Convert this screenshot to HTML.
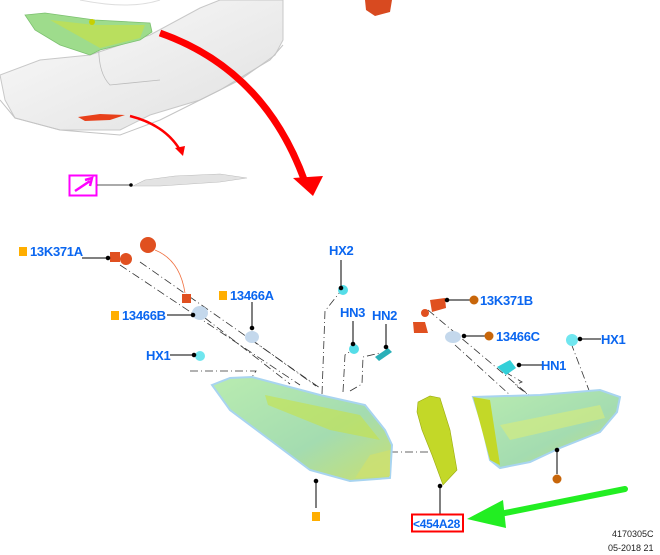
<!DOCTYPE html>
<html><head><meta charset="utf-8"><style>
html,body{margin:0;padding:0;background:#fff;width:660px;height:555px;overflow:hidden}
svg text{font-family:"Liberation Sans",sans-serif;font-weight:bold;fill:#0a66f0;font-size:13px;letter-spacing:-0.3px}
</style></head><body>
<svg width="660" height="555" viewBox="0 0 660 555" xmlns="http://www.w3.org/2000/svg">
<defs>
<linearGradient id="car" x1="0" y1="0" x2="1" y2="1"><stop offset="0" stop-color="#fbfbfb"/><stop offset="1" stop-color="#e0e0e0"/></linearGradient>
<linearGradient id="lamp" x1="0" y1="0" x2="1" y2="1"><stop offset="0" stop-color="#b9ecb0"/><stop offset="0.6" stop-color="#a4dcb0"/><stop offset="1" stop-color="#c8e070"/></linearGradient>
</defs>
<!-- car rear -->
<path d="M0,75 L40,60 L90,55 L150,35 L200,8 L220,0 L283,0 L283,40 L275,55 L240,80 L200,100 L150,115 L120,130 L60,130 L15,118 L5,100 Z" fill="url(#car)" stroke="#c8c8c8"/>
<path d="M0,100 L15,118 L60,130 L120,135 L160,120 L220,90 L270,60 L283,45" fill="none" stroke="#c4c4c4"/>
<path d="M80,0 Q130,10 160,0" fill="none" stroke="#ddd"/>
<path d="M100,30 Q95,70 110,85 L160,80" fill="none" stroke="#bbb" stroke-width="0.8"/>
<path d="M78,117 L100,114 L125,115 L110,120 L85,121 Z" fill="#e8401a"/>
<!-- green lamp top -->
<path d="M25,15 L45,13 L95,20 L150,23 L152,32 L140,40 L100,50 L90,55 L60,45 L35,30 Z" fill="#9edc8c" stroke="#7cc070" stroke-width="0.8"/>
<path d="M50,20 L95,25 L145,25 L140,38 L100,48 Z" fill="#c4e04a" opacity="0.7"/>
<circle cx="92" cy="22" r="3" fill="#c8d000"/>
<path d="M365,0 L392,0 L390,12 L375,16 L366,10 Z" fill="#d84a20"/>
<!-- big red arrow -->
<path d="M160,33 Q265,70 305,182" fill="none" stroke="#ff0000" stroke-width="7"/>
<polygon points="293,178 323,176 313,196" fill="#ff0000"/>
<!-- small red arrow -->
<path d="M130,116 Q165,125 180,150" fill="none" stroke="#ff0000" stroke-width="2.5"/>
<polygon points="175,148 185,146 183,156" fill="#ff0000"/>
<!-- magenta box and part -->
<rect x="69.5" y="175.5" width="27" height="20" fill="#fff" stroke="#ff00ff" stroke-width="2"/>
<path d="M75,191 L90,181 M85,180 L92,178 L90,186" fill="none" stroke="#ff00ff" stroke-width="2.5"/>
<line x1="97" y1="185" x2="131" y2="185" stroke="#555"/>
<circle cx="131" cy="185" r="1.8" fill="#000"/>
<path d="M133,186 L145,180 L175,176 L220,174 L247,178 L220,182 L160,186 Z" fill="#e3e3e3" stroke="#bbb" stroke-width="0.6"/>

<!-- dash-dot leaders -->
<g fill="none" stroke="#333" stroke-width="0.8" stroke-dasharray="8,3,1,3">
<path d="M140,262 L320,388"/>
<path d="M120,265 L300,385"/>
<path d="M205,318 L290,384"/>
<path d="M252,340 L316,386"/>
<path d="M190,371 L256,371 L250,380"/>
<path d="M322,394 L325,311 L340,292"/>
<path d="M343,392 L345,355 L355,348"/>
<path d="M350,391 L362,384 L363,357 L380,353"/>
<path d="M390,452 L430,452"/>
<path d="M428,310 L530,396"/>
<path d="M455,345 L510,395"/>
<path d="M505,372 L522,382 L515,385 L530,396"/>
<path d="M571,343 L590,393"/>
</g>
<!-- left lamp -->
<path d="M212,385 L230,378 L252,377 L320,395 L365,405 L385,430 L392,445 L390,478 L350,481 L310,470 L270,440 L230,410 Z" fill="url(#lamp)" stroke="#a8d4f0" stroke-width="2"/>
<path d="M265,395 L360,415 L380,440 L330,430 L268,405 Z" fill="#c6e24a" opacity="0.6"/>
<path d="M355,478 L370,455 L390,450 L390,476 Z" fill="#cde070" opacity="0.8"/>
<!-- bracket -->
<path d="M418,402 L430,396 L440,398 L450,430 L457,470 L443,485 L432,455 L422,430 L417,412 Z" fill="#c3d828" stroke="#9aaa10" stroke-width="0.6"/>
<!-- right lamp -->
<path d="M473,397 L540,395 L600,390 L620,397 L617,412 L600,432 L560,448 L530,462 L500,468 L490,460 L482,425 Z" fill="url(#lamp)" stroke="#a8d4f0" stroke-width="2"/>
<path d="M473,397 L490,400 L500,465 L490,460 Z" fill="#c3d828"/>
<path d="M500,425 L600,405 L605,418 L510,440 Z" fill="#d8ec7a" opacity="0.6"/>

<!-- small parts -->
<g>
<circle cx="148" cy="245" r="8" fill="#e05020"/>
<circle cx="126" cy="259" r="6" fill="#e05020"/>
<rect x="110" y="252" width="10" height="10" fill="#e05020"/>
<rect x="182" y="294" width="9" height="9" fill="#e05020"/>
<path d="M155,250 Q180,260 185,293" fill="none" stroke="#f07040" stroke-width="0.8"/>
<ellipse cx="200" cy="313" rx="8" ry="7" fill="#c4d8ec"/>
<ellipse cx="252" cy="337" rx="7" ry="6" fill="#c4d8ec"/>
<circle cx="200" cy="356" r="5" fill="#70e6ef"/>
<circle cx="343" cy="290" r="5" fill="#55dde8"/>
<circle cx="354" cy="349" r="5" fill="#55dde8"/>
<path d="M375,357 L388,348 L392,352 L379,361 Z" fill="#2ab0b8"/>
<path d="M413,322 L425,322 L428,333 L414,333 Z" fill="#e05020"/>
<path d="M430,300 L445,298 L446,308 L432,312 Z" fill="#e05020"/>
<circle cx="425" cy="313" r="4" fill="#e05020"/>
<ellipse cx="453" cy="337" rx="8" ry="6" fill="#c4d8ec"/>
<path d="M497,367 L510,360 L516,368 L506,375 Z" fill="#33cfd8"/>
<circle cx="572" cy="340" r="6" fill="#70e6ef"/>
</g>

<!-- labels and leaders -->
<g stroke="#000" stroke-width="1" fill="#000">
<line x1="82" y1="258" x2="108" y2="258"/><circle cx="108" cy="258" r="1.8"/>
<line x1="341" y1="260" x2="341" y2="288"/><circle cx="341" cy="288" r="1.8"/>
<line x1="252" y1="302" x2="252" y2="328"/><circle cx="252" cy="328" r="1.8"/>
<line x1="167" y1="315" x2="193" y2="315"/><circle cx="193" cy="315" r="1.8"/>
<line x1="170" y1="355" x2="194" y2="355"/><circle cx="194" cy="355" r="1.8"/>
<line x1="353" y1="321" x2="353" y2="344"/><circle cx="353" cy="344" r="1.8"/>
<line x1="386" y1="324" x2="386" y2="347"/><circle cx="386" cy="347" r="1.8"/>
<line x1="447" y1="300" x2="470" y2="300"/><circle cx="447" cy="300" r="1.8"/>
<line x1="464" y1="336" x2="486" y2="336"/><circle cx="464" cy="336" r="1.8"/>
<line x1="580" y1="339" x2="601" y2="339"/><circle cx="580" cy="339" r="1.8"/>
<line x1="519" y1="365" x2="542" y2="365"/><circle cx="519" cy="365" r="1.8"/>
<line x1="316" y1="481" x2="316" y2="508"/><circle cx="316" cy="481" r="1.8"/>
<line x1="440" y1="486" x2="440" y2="514"/><circle cx="440" cy="486" r="1.8"/>
<line x1="557" y1="450" x2="557" y2="474"/><circle cx="557" cy="450" r="1.8"/>
</g>
<rect x="19" y="247" width="8" height="9" fill="#ffae00"/>
<text x="30" y="256">13K371A</text>
<text x="329" y="255">HX2</text>
<rect x="219" y="291" width="8" height="9" fill="#ffae00"/>
<text x="230" y="300">13466A</text>
<rect x="111" y="311" width="8" height="9" fill="#ffae00"/>
<text x="122" y="320">13466B</text>
<text x="146" y="360">HX1</text>
<text x="340" y="317">HN3</text>
<text x="372" y="320">HN2</text>
<circle cx="474" cy="300" r="4.5" fill="#c8660a"/>
<text x="480" y="305">13K371B</text>
<circle cx="489" cy="336" r="4.5" fill="#c8660a"/>
<text x="496" y="341">13466C</text>
<text x="601" y="344">HX1</text>
<text x="541" y="370">HN1</text>
<circle cx="557" cy="479" r="4.5" fill="#c8660a"/>
<rect x="312" y="512" width="8" height="9" fill="#ffae00"/>
<rect x="412" y="514.5" width="51" height="17" fill="#fff" stroke="#ff0000" stroke-width="2"/>
<text x="413" y="528" style="font-size:12px">&lt;454A28</text>
<!-- green arrow -->
<line x1="625" y1="489" x2="500" y2="514" stroke="#22ee22" stroke-width="6" stroke-linecap="round"/>
<polygon points="467,519 503,500 506,528" fill="#22ee22"/>
<text x="612" y="537" style="font-size:9px;font-weight:normal;fill:#222;letter-spacing:0">4170305C</text>
<text x="608" y="551" style="font-size:9px;font-weight:normal;fill:#222;letter-spacing:0">05-2018 21</text>
</svg>
</body></html>
